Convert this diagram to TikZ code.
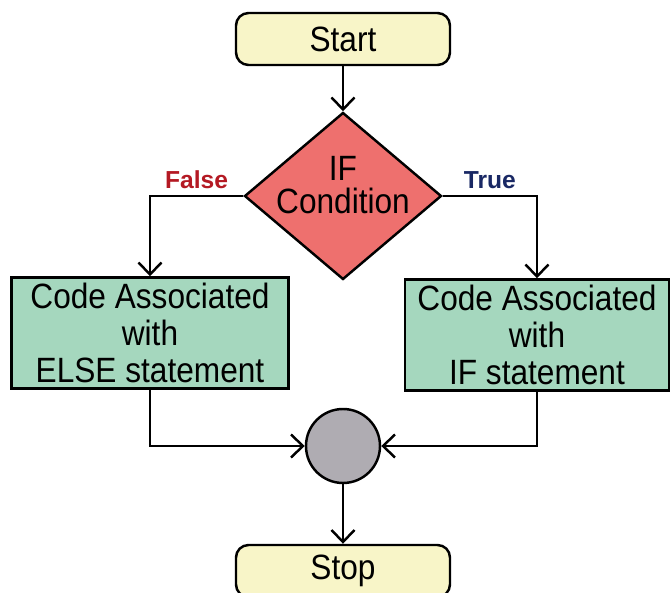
\documentclass[tikz,border=0pt]{standalone}
\usepackage{fontspec}
\setmainfont{Liberation Sans}
\newfontfamily\flowfont{Liberation Sans}[FakeStretch=0.9]
\usetikzlibrary{arrows.meta,positioning,shapes.geometric}

\definecolor{termfill}{RGB}{248,245,200}
\definecolor{condfill}{RGB}{238,112,110}
\definecolor{codefill}{RGB}{165,215,190}
\definecolor{joinfill}{RGB}{175,172,178}
\definecolor{falsered}{RGB}{180,25,35}
\definecolor{trueblue}{RGB}{25,40,100}

\begin{document}
\begin{tikzpicture}[->,>={Straight Barb[length=2.4mm,width=4.6mm]},line width=1.4pt,
                    node distance=3.14cm,font=\flowfont\fontsize{20}{21}\selectfont]
  \tikzstyle{terminal}=[draw,fill=termfill,rounded corners=2.5mm,minimum width=4.28cm,minimum height=1.04cm]
  \tikzstyle{decision}=[draw,diamond,fill=condfill,inner sep=0pt,minimum width=3.94cm,minimum height=3.34cm]
  \tikzstyle{codebox}=[draw,fill=codefill,align=center,inner sep=0pt,minimum height=2.22cm]
  \tikzstyle{junction}=[draw,circle,fill=joinfill,inner sep=0pt,minimum size=1.48cm]
  \tikzstyle{branch}=[font=\normalfont\bfseries\fontsize{14}{16}\selectfont,above=0pt,pos=0.25]

  \useasboundingbox (-6.86,0.78) rectangle (6.58,-11.08);

  \node[terminal]  (start)                                          {Start};
  \node[decision]  (cond)     [below of=start]                      {};
  \node[align=center,font=\flowfont\fontsize{20}{19}\selectfont]
                   (condtext) at ([yshift=0.22cm]cond.center)       {IF\\Condition};
  \node[codebox,minimum width=5.54cm] (elsebox) [on grid,below left=2.74cm and 3.86cm of cond]
                   {Code Associated\\with\\ELSE statement};
  \node[codebox,minimum width=5.28cm] (ifbox)   [on grid,below right=2.78cm and 3.88cm of cond]
                   {Code Associated\\with\\IF statement};
  \node[junction]  (merge)    [below of=cond,node distance=5cm]     {};
  \node[terminal]  (stop)     [below of=merge,node distance=2.5cm]  {Stop};

  \path (start) edge (cond);
  \draw (cond.west) -| node[branch,text=falsered] {False} (elsebox.north);
  \draw (cond.east) -| node[branch,text=trueblue] {True} (ifbox.north);
  \draw (elsebox.south) |- (merge.west);
  \draw (ifbox.south) |- (merge.east);
  \path (merge) edge (stop);
\end{tikzpicture}
\end{document}
